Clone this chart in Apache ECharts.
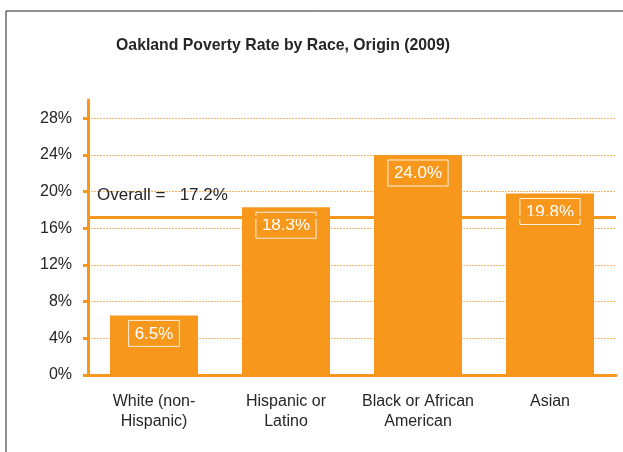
<!DOCTYPE html>
<html><head><meta charset="utf-8">
<script src="https://cdn.jsdelivr.net/npm/echarts@6/dist/echarts.min.js"></script>
<style>html,body{margin:0;padding:0;background:#fff}#c{width:623px;height:452px}</style>
</head><body><div id="c"></div>
<script>
var categories = ['White (non-\nHispanic)', 'Hispanic or\nLatino', 'Black or African\nAmerican', 'Asian'];
var values = [6.5, 18.3, 24.0, 19.8];
var overall = 17.2;
var yTicks = [0, 4, 8, 12, 16, 20, 24, 28];
var titleText = 'Oakland Poverty Rate by Race, Origin (2009)';

var ORANGE = '#F7981D';
var TXT = '#262626';
var FONT = '"Liberation Sans", Arial, sans-serif';
var chart = echarts.init(document.getElementById('c'), null, {renderer: 'canvas'});
chart.setOption({
  animation: false,
  textStyle: {fontFamily: FONT},
  grid: {left: 88, right: 7, top: 100, bottom: 77, containLabel: false},
  graphic: [
    {type: 'line', shape: {x1: 6, y1: 11, x2: 623, y2: 11}, style: {stroke: '#222', lineWidth: 1}},
    {type: 'line', shape: {x1: 6, y1: 11, x2: 6, y2: 452}, style: {stroke: '#222', lineWidth: 1}},
    {type: 'text', x: 283, y: 45, scaleX: 0.93, style: {text: titleText, fill: TXT, font: 'bold 17px ' + FONT, textAlign: 'center', textVerticalAlign: 'middle'}}
  ],
  xAxis: {
    type: 'category', data: categories,
    axisLine: {lineStyle: {color: ORANGE, width: 3}},
    axisTick: {show: false},
    axisLabel: {color: TXT, fontSize: 16, lineHeight: 20, margin: 17, interval: 0}
  },
  yAxis: {
    type: 'value', min: 0, max: 30, interval: 4,
    axisLine: {show: true, lineStyle: {color: ORANGE, width: 3}},
    axisTick: {show: true, length: 5, customValues: yTicks, lineStyle: {color: ORANGE, width: 3}},
    axisLabel: {color: TXT, fontSize: 16, margin: 16, customValues: yTicks, formatter: function (v) { return v + '%'; }},
    splitLine: {show: true, lineStyle: {color: '#F8B870', width: 1, type: [2, 1]}}
  },
  series: [{
    type: 'bar', data: values, barWidth: 88,
    itemStyle: {color: ORANGE},
    label: {
      show: true, position: 'insideTop', distance: 5,
      color: '#fff', fontSize: 17, borderColor: 'rgba(255,255,255,0.85)', borderWidth: 1,
      padding: [5, 6, 4, 6],
      formatter: function (p) { return p.value.toFixed(1) + '%'; }
    },
    markLine: {
      silent: true, symbol: 'none', z: 5,
      lineStyle: {color: ORANGE, width: 3, type: 'solid'},
      label: {
        show: true, position: 'insideStartTop', distance: [9, 14],
        color: TXT, fontSize: 17,
        formatter: 'Overall =   ' + overall.toFixed(1) + '%'
      },
      data: [{yAxis: overall}]
    }
  }]
});
</script></body></html>
